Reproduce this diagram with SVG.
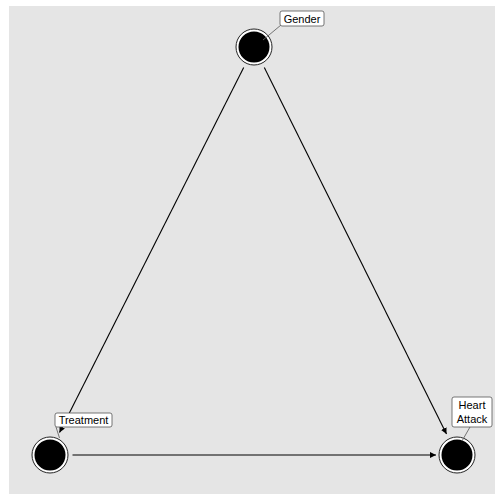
<svg xmlns="http://www.w3.org/2000/svg" width="504" height="504" viewBox="0 0 504 504">
<style>
.ring{fill:#ffffff;stroke:#222;stroke-width:1}
.core{fill:#000}
.edge{stroke:#000;stroke-width:1.1;fill:none;marker-end:url(#arr)}
.lead{stroke:#666;stroke-width:0.9}
.box{fill:#fff;stroke:#555;stroke-width:0.8}
.lbl{font-family:"Liberation Sans",Arial,sans-serif;font-size:11px;fill:#000;text-anchor:middle}
</style>
<defs>
<marker id="arr" viewBox="0 0 10 10" refX="10" refY="5" markerWidth="6" markerHeight="6" markerUnits="userSpaceOnUse" orient="auto">
<path d="M0,0 L10,5 L0,10 z" fill="#000"/>
</marker>
</defs>
<rect x="0" y="0" width="504" height="504" fill="#fff"/>
<rect x="9" y="6" width="486" height="488" fill="#e5e5e5"/>
<g id="connectors">
<line class="edge" x1="243.7" y1="67.6" x2="59.5" y2="432.5"/>
<line class="edge" x1="264.3" y1="67.6" x2="446.5" y2="434"/>
<line class="edge" x1="72.5" y1="455" x2="436" y2="455"/>
</g>
<g id="gender">
<circle class="ring" cx="254" cy="47" r="18"/>
<circle class="core" cx="254" cy="47" r="15.5"/>
<line class="lead" x1="263" y1="40" x2="281" y2="25"/>
<rect class="box" x="280" y="11" width="44" height="15" rx="2"/>
<text class="lbl" x="302" y="22.5">Gender</text>
</g>
<g id="treatment">
<circle class="ring" cx="50" cy="455" r="18"/>
<circle class="core" cx="50" cy="455" r="15.5"/>
<line class="lead" x1="56" y1="427" x2="59.5" y2="438"/>
<rect class="box" x="55" y="413" width="57" height="14" rx="2"/>
<text class="lbl" x="83.5" y="424">Treatment</text>
</g>
<g id="heart-attack">
<circle class="ring" cx="457" cy="455" r="18"/>
<circle class="core" cx="457" cy="455" r="15.5"/>
<line class="lead" x1="470" y1="427" x2="462" y2="441"/>
<rect class="box" x="452" y="397" width="40" height="30" rx="2"/>
<text class="lbl" x="472" y="409">Heart</text>
<text class="lbl" x="472" y="423">Attack</text>
</g>
</svg>
